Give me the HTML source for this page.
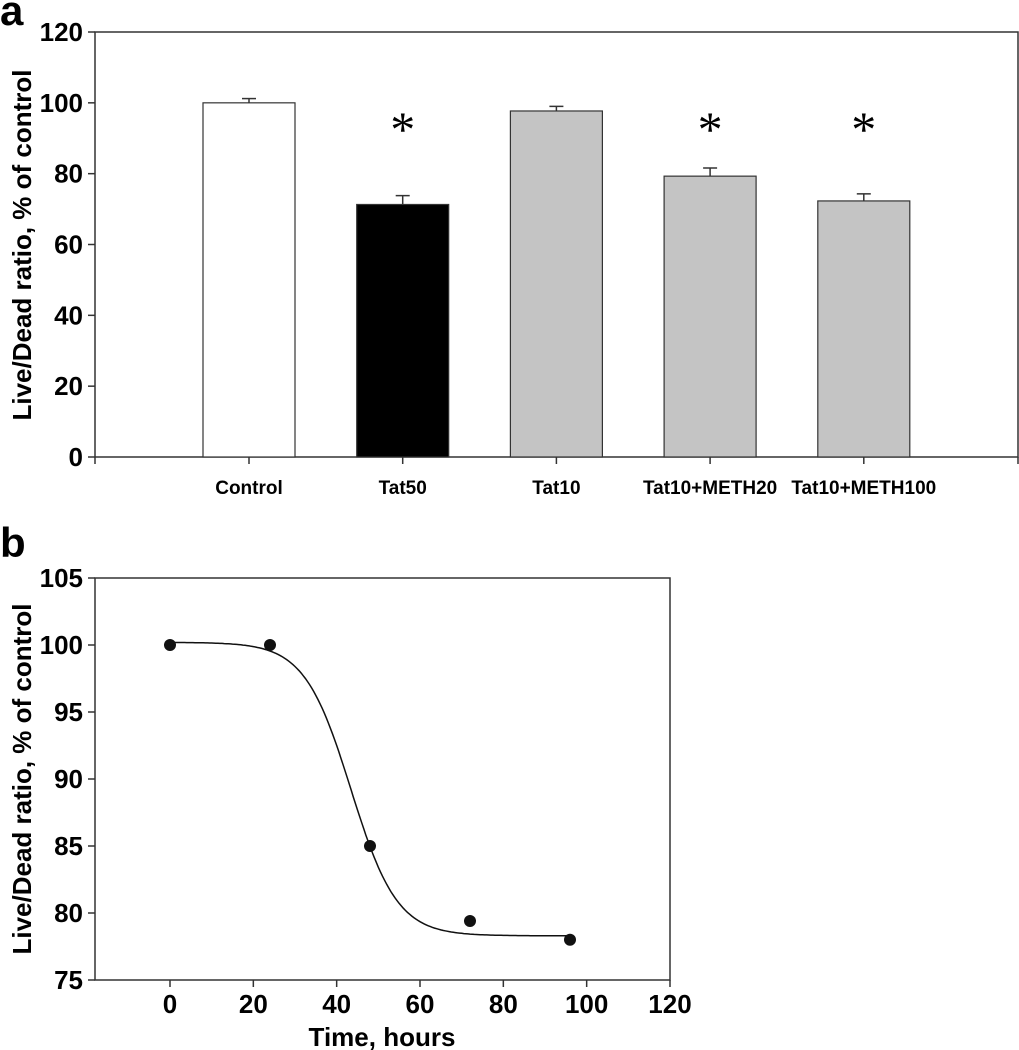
<!DOCTYPE html>
<html><head><meta charset="utf-8"><style>
html,body{margin:0;padding:0;background:#fff;}
svg{display:block;font-family:"Liberation Sans",Arial,sans-serif;}
</style></head><body>
<svg id="fig" width="1019" height="1050" xmlns="http://www.w3.org/2000/svg">
<text x="0" y="25" font-size="42" font-weight="bold">a</text>
<text x="0" y="557" font-size="42" font-weight="bold">b</text>
<g id="pa"></g>
<g id="pb"></g>
</svg>
<script>
const categories = ["Control","Tat50","Tat10","Tat10+METH20","Tat10+METH100"];
const barValues = [100, 71.3, 97.7, 79.3, 72.3];
const barErrors = [1.2, 2.5, 1.3, 2.3, 2.0];
const barColors = ["#ffffff","#000000","#c4c4c4","#c4c4c4","#c4c4c4"];
const significant = [false, true, false, true, true];
const yTicksA = [0,20,40,60,80,100,120];
const timeHours = [0, 24, 48, 72, 96];
const ratioValues = [100, 100, 85, 79.4, 78];
const yTicksB = [75,80,85,90,95,100,105];
const xTicksB = [0,20,40,60,80,100,120];
const fitParams = [78.3, 21.9, 43.4, 5.56];

const NS="http://www.w3.org/2000/svg";
function mk(tag,attrs,parent,text){const e=document.createElementNS(NS,tag);for(const k in attrs)e.setAttribute(k,attrs[k]);if(text!==undefined)e.textContent=text;parent.appendChild(e);return e;}

// Panel a
const pa=document.getElementById('pa');
const aL=95,aR=1018,aT=32,aB=457;
const yA=v=>aB-(v-0)/(120-0)*(aB-aT);
const xA=i=>249+i*153.7;
let e;
e=mk('rect',{x:aL,y:aT,width:aR-aL,height:aB-aT,fill:'none',stroke:'#333','stroke-width':1.5},pa);


yTicksA.forEach(t=>{
  e=mk('line',{x1:aL-7,x2:aL,y1:yA(t),y2:yA(t),stroke:'#333','stroke-width':1.5},pa);
  
  
  e=mk('text',{x:aL-12,y:yA(t)+9,'text-anchor':'end','font-size':26,'font-weight':'bold'},pa,String(t));
  
  
});
[aL,aR].forEach(x=>{e=mk('line',{x1:x,x2:x,y1:aB,y2:aB+7,stroke:'#333','stroke-width':1.5},pa);
  
  });
categories.forEach((c,i)=>{
  const cx=xA(i),v=barValues[i],er=barErrors[i];
  e=mk('line',{x1:cx,x2:cx,y1:yA(v),y2:yA(v+er),stroke:'#333','stroke-width':1.5},pa);
  
  
  e=mk('line',{x1:cx-7,x2:cx+7,y1:yA(v+er),y2:yA(v+er),stroke:'#333','stroke-width':1.5},pa);
  
  
  e=mk('rect',{x:cx-46,y:yA(v),width:92,height:aB-yA(v),fill:barColors[i],stroke:'#333','stroke-width':1.2},pa);
  
  
  e=mk('line',{x1:cx,x2:cx,y1:aB,y2:aB+7,stroke:'#333','stroke-width':1.5},pa);
  
  
  e=mk('text',{x:cx,y:494,'text-anchor':'middle','font-size':19,'font-weight':'bold'},pa,c);
  
  
  if(significant[i]){
    e=mk('text',{x:cx,y:146,'text-anchor':'middle','font-size':50,'font-family':'Liberation Serif, serif'},pa,'*');
    
    
  }
});
e=mk('text',{x:0,y:0,transform:'translate(31,245) rotate(-90)','text-anchor':'middle','font-size':26,'font-weight':'bold'},pa,'Live/Dead ratio, % of control');



// Panel b
const pb=document.getElementById('pb');
const bL=95,bR=670,bT=578,bB=980;
const yB=v=>bB-(v-75)/(105-75)*(bB-bT);
const xB=t=>170+(t-0)/120*(670-170);
e=mk('rect',{x:bL,y:bT,width:bR-bL,height:bB-bT,fill:'none',stroke:'#333','stroke-width':1.5},pb);


yTicksB.forEach(t=>{
  e=mk('line',{x1:bL-7,x2:bL,y1:yB(t),y2:yB(t),stroke:'#333','stroke-width':1.5},pb);
  
  
  e=mk('text',{x:bL-12,y:yB(t)+9,'text-anchor':'end','font-size':26,'font-weight':'bold'},pb,String(t));
  
  
});
xTicksB.forEach(t=>{
  e=mk('line',{x1:xB(t),x2:xB(t),y1:bB,y2:bB+7,stroke:'#333','stroke-width':1.5},pb);
  
  
  e=mk('text',{x:xB(t),y:1013,'text-anchor':'middle','font-size':26,'font-weight':'bold'},pb,String(t));
  
  
});
const [y0,amp,x0,sl]=fitParams;
let d='';
for(let t=0;t<=96;t+=0.5){const v=y0+amp/(1+Math.exp((t-x0)/sl));d+=(d?'L':'M')+xB(t).toFixed(1)+','+yB(v).toFixed(1);}
e=mk('path',{d:d,fill:'none',stroke:'#111','stroke-width':1.5},pb);


timeHours.forEach((t,i)=>{
  e=mk('circle',{cx:xB(t),cy:yB(ratioValues[i]),r:6,fill:'#111'},pb);
  
  
});
e=mk('text',{x:0,y:0,transform:'translate(31,779) rotate(-90)','text-anchor':'middle','font-size':26,'font-weight':'bold'},pb,'Live/Dead ratio, % of control');


e=mk('text',{x:382,y:1046,'text-anchor':'middle','font-size':26,'font-weight':'bold'},pb,'Time, hours');


</script>
</body></html>
